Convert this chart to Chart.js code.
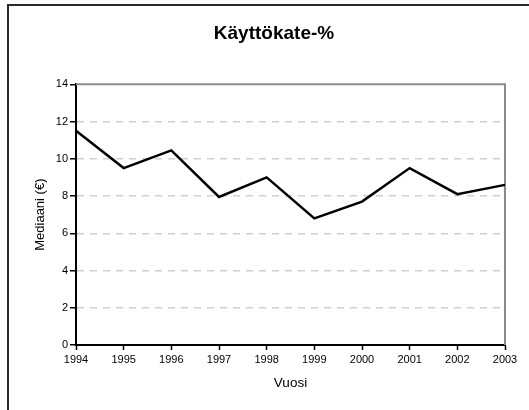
<!DOCTYPE html>
<html>
<head>
<meta charset="utf-8">
<script src="https://cdn.jsdelivr.net/npm/chart.js@4/dist/chart.umd.min.js"></script>
<style>
  html, body { margin: 0; padding: 0; background: #fff; }
  #wrap { position: relative; width: 529px; height: 410px; overflow: hidden; }
  /* outer frame of the chart object, cut off on the right and bottom */
  .frame { position: absolute; left: 7px; top: 4px; width: 600px; height: 500px;
           border-left: 2px solid #2b2b2b; border-top: 2px solid #2b2b2b; }
  canvas { position: absolute; left: 0; top: 0; }
</style>
</head>
<body>
<div id="wrap">
  <div class="frame"></div>
  <canvas id="line-chart" width="529" height="410"></canvas>
</div>
<script>
'use strict'

// years
const years = ['1994', '1995', '1996', '1997', '1998', '1999', '2000', '2001', '2002', '2003'];
// median values
const medians = [11.5, 9.5, 10.45, 7.95, 9.0, 6.8, 7.7, 9.5, 8.1, 8.6];
// y ticks
const yMin = 0;
const yMax = 14;
const yStep = 2;

const chartTitle = 'Käyttökate-%';
const yTitle = 'Mediaani (€)';
const xTitle = 'Vuosi';

const font = "'Liberation Sans', Arial, sans-serif";

// gray frame on top and right of the plot area
const plotFrame = {
    id: 'plotFrame',
    beforeDatasetsDraw(chart){
        const { ctx, chartArea } = chart;
        ctx.save();
        ctx.strokeStyle = '#8c8c8c';
        ctx.lineWidth = 2;
        ctx.beginPath();
        ctx.moveTo(chartArea.left, chartArea.top);
        ctx.lineTo(chartArea.right, chartArea.top);
        ctx.lineTo(chartArea.right, chartArea.bottom);
        ctx.stroke();
        ctx.restore();
    }
};

new Chart(document.getElementById('line-chart'), {
    type: 'line',
    data: {
        labels: years,
        datasets: [{
            data: medians,
            borderColor: '#000',
            borderWidth: 2.5,
            pointRadius: 0,
            tension: 0,
            fill: false
        }]
    },
    options: {
        responsive: false,
        animation: false,
        layout: { padding: { left: 19, right: 0, top: 0, bottom: 0 } },
        plugins: {
            legend: { display: false },
            tooltip: { enabled: false },
            title: {
                display: true,
                text: chartTitle,
                color: '#000',
                font: { family: font, size: 19, weight: 'bold' },
                padding: { top: 22, bottom: 39.5 }
            }
        },
        scales: {
            x: {
                offset: false,
                grid: { drawOnChartArea: false, drawTicks: true, tickLength: 5, tickColor: '#000', tickWidth: 1.5 },
                border: { color: '#000', width: 2 },
                ticks: { color: '#000', font: { family: font, size: 11 }, padding: 3, maxRotation: 0, autoSkip: false },
                title: {
                    display: true,
                    text: xTitle,
                    color: '#000',
                    font: { family: font, size: 13.5 },
                    padding: { top: 0, bottom: 19 }
                },
                afterFit(scale){
                    scale.height = 65;
                    scale.paddingRight = 24;
                }
            },
            y: {
                min: yMin,
                max: yMax,
                grid: {
                    color: (c) => (c.tick && (c.tick.value === yMin || c.tick.value === yMax)) ? 'rgba(0,0,0,0)' : '#d0d0d0',
                    lineWidth: 1.5,
                    tickLength: 6,
                    tickColor: '#000',
                    tickWidth: 1.5,
                    tickBorderDash: []
                },
                border: { color: '#000', width: 2, dash: [7, 6] },
                ticks: { stepSize: yStep, color: '#000', font: { family: font, size: 11 }, padding: 2 },
                title: {
                    display: true,
                    text: yTitle,
                    color: '#000',
                    font: { family: font, size: 13 },
                    padding: { top: 14, bottom: 0 }
                },
                afterFit(scale){
                    scale.width = 57;
                }
            }
        }
    },
    plugins: [plotFrame]
});
</script>
</body>
</html>
